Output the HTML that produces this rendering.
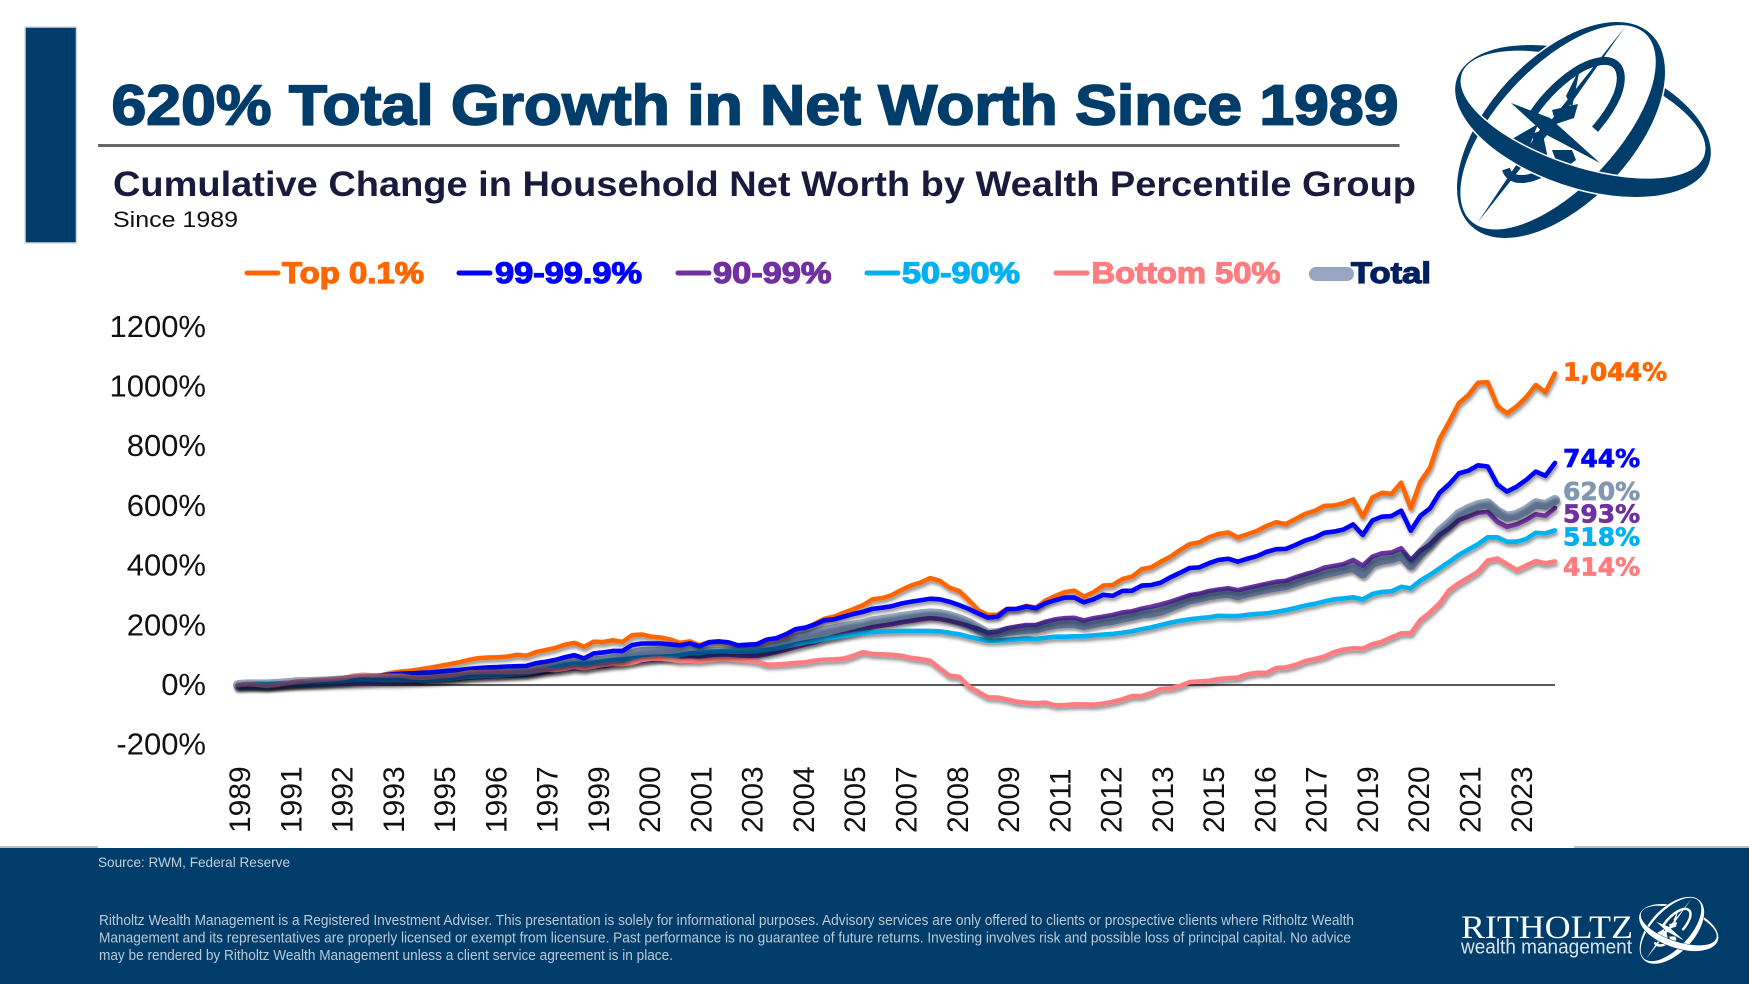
<!DOCTYPE html>
<html lang="en">
<head>
<meta charset="utf-8">
<title>620% Total Growth in Net Worth Since 1989</title>
<style>
html,body{margin:0;padding:0;background:#fff;}
svg{display:block;}
text{font-family:"Liberation Sans",Arial,sans-serif;}
</style>
</head>
<body>
<svg id="slide" xmlns="http://www.w3.org/2000/svg" width="1749" height="984" viewBox="0 0 1749 984">
  <defs>
    <filter id="shadow" filterUnits="userSpaceOnUse" x="200" y="300" width="1400" height="500">
      <feDropShadow dx="1" dy="3" stdDeviation="1.6" flood-color="#000" flood-opacity="0.42"/>
    </filter>
    <filter id="shadow-strong" filterUnits="userSpaceOnUse" x="200" y="300" width="1400" height="500">
      <feDropShadow dx="1" dy="3" stdDeviation="1.4" flood-color="#000" flood-opacity="1"/>
    </filter>
    <clipPath id="front-clip"><polygon points="1430,87 1730,183 1730,260 1430,260"/></clipPath>
    <path id="ring-b" fill-rule="evenodd" d="M-133 0a133 66.5 0 1 0 266 0a133 66.5 0 1 0 -266 0Z M-130 -6a128 52 0 1 0 256 0a128 52 0 1 0 -256 0Z"/>
    <path id="ring-a" fill-rule="evenodd" d="M-131.5 0a131.5 72 0 1 0 263 0a131.5 72 0 1 0 -263 0Z M-128 -4a128 60 0 1 0 256 0a128 60 0 1 0 -256 0Z"/>
    <g id="logo-mark" fill="currentColor">
      <use href="#ring-b" transform="translate(1583 121) rotate(18.6)"/>
      <ellipse cx="1561" cy="130" rx="131.5" ry="72" transform="rotate(-47 1561 130)" fill="var(--halo)"/>
      <g transform="translate(1558 122) rotate(-47)">
        <path d="M-10 -24 A70 30 0 0 1 55 -20 A70 30 0 0 1 60 25 A70 30 0 0 1 20 32" fill="none" stroke="currentColor" stroke-width="8"/>
        <path d="M-70 -6 A70 30 0 0 0 -40 26" fill="none" stroke="currentColor" stroke-width="8"/>
      </g>
      <polygon points="1625,27 1553,118 1541,128 1478,222 1547,135 1558,122"/>
      <polygon points="1511,103 1550,118 1600,163 1545,134"/>
      <polygon points="1505,143 1538,124 1528,150 1518,162"/>
      <polygon points="1532,134 1542,130 1550,168 1540,176"/>
      <polygon points="1552,110 1578,104 1574,118 1556,124"/>
      <polygon points="1552,150 1572,150 1576,160 1560,172"/>
      <polygon points="1566,96 1580,68 1572,108"/>
      <g transform="translate(1561 130) rotate(-47)">
        <use href="#ring-a" stroke="var(--halo)" stroke-width="3" paint-order="stroke"/>
      </g>
      <g clip-path="url(#front-clip)">
        <g transform="translate(1583 121) rotate(18.6)">
          <use href="#ring-b" stroke="var(--halo)" stroke-width="3" paint-order="stroke"/>
        </g>
      </g>
    </g>
  </defs>

  <rect x="0" y="0" width="1749" height="984" fill="#fff"/>
  <rect x="25" y="27" width="51.5" height="216" fill="#003D6B" stroke="#d9d9d9" stroke-width="1.5"/>

  <text x="111.500" y="124.500" font-size="57" font-weight="700" fill="#003D6B" stroke="#003D6B" stroke-width="1.7" textLength="1287" lengthAdjust="spacingAndGlyphs">620% Total Growth in Net Worth Since 1989</text>
  <rect x="98" y="144" width="1301.500" height="3" fill="#666"/>
  <text x="113" y="196" font-size="35" font-weight="700" fill="#1A1A3C" textLength="1303" lengthAdjust="spacingAndGlyphs">Cumulative Change in Household Net Worth by Wealth Percentile Group</text>
  <text x="113" y="227" font-size="22.5" fill="#111" textLength="125" lengthAdjust="spacingAndGlyphs">Since 1989</text>

  <g style="--halo:#fff;color:#003D6B"><use href="#logo-mark"/></g>

  <g id="legend" font-size="29.500" font-weight="700" stroke-width="1.2">
    <g>
      <line x1="247" y1="273" x2="278" y2="273" stroke="#FF6600" stroke-width="5" stroke-linecap="round"/>
      <text x="282" y="283" fill="#FF6600" stroke="#FF6600" textLength="142" lengthAdjust="spacingAndGlyphs">Top 0.1%</text>
    </g>
    <g>
      <line x1="459" y1="273" x2="490" y2="273" stroke="#0000FF" stroke-width="5" stroke-linecap="round"/>
      <text x="495" y="283" fill="#0000FF" stroke="#0000FF" textLength="147" lengthAdjust="spacingAndGlyphs">99-99.9%</text>
    </g>
    <g>
      <line x1="678" y1="273" x2="709" y2="273" stroke="#7030A0" stroke-width="5" stroke-linecap="round"/>
      <text x="713" y="283" fill="#7030A0" stroke="#7030A0" textLength="118.500" lengthAdjust="spacingAndGlyphs">90-99%</text>
    </g>
    <g>
      <line x1="867" y1="273" x2="898" y2="273" stroke="#00B0F0" stroke-width="5" stroke-linecap="round"/>
      <text x="902" y="283" fill="#00B0F0" stroke="#00B0F0" textLength="118" lengthAdjust="spacingAndGlyphs">50-90%</text>
    </g>
    <g>
      <line x1="1056" y1="273" x2="1087" y2="273" stroke="#FF7C80" stroke-width="5" stroke-linecap="round"/>
      <text x="1091.500" y="283" fill="#FF7C80" stroke="#FF7C80" textLength="189" lengthAdjust="spacingAndGlyphs">Bottom 50%</text>
    </g>
    <g>
      <rect x="1309" y="267" width="45" height="14" rx="7" fill="#98A6C1"/>
      <text x="1351" y="283" fill="#002060" stroke="#002060" textLength="80" lengthAdjust="spacingAndGlyphs">Total</text>
    </g>
  </g>

  <g id="y-axis"></g>
  <g id="x-axis"></g>
  <g id="plot"></g>
  <g id="end-labels"></g>

  <rect x="0" y="846" width="98" height="2" fill="#b9bec4"/>
  <rect x="1574" y="846" width="175" height="2" fill="#b9bec4"/>
  <rect x="0" y="848" width="1749" height="136" fill="#003D6B"/>
  <text x="98" y="867" font-size="14" fill="#C3CFDA" textLength="192" lengthAdjust="spacingAndGlyphs">Source: RWM, Federal Reserve</text>
  <g font-size="14.5" fill="#BCC9D5">
    <text x="99" y="925" textLength="1255" lengthAdjust="spacingAndGlyphs">Ritholtz Wealth Management is a Registered Investment Adviser. This presentation is solely for informational purposes. Advisory services are only offered to clients or prospective clients where Ritholtz Wealth</text>
    <text x="99" y="942.500" textLength="1252" lengthAdjust="spacingAndGlyphs">Management and its representatives are properly licensed or exempt from licensure. Past performance is no guarantee of future returns. Investing involves risk and possible loss of principal capital. No advice</text>
    <text x="99" y="960" textLength="574" lengthAdjust="spacingAndGlyphs">may be rendered by Ritholtz Wealth Management unless a client service agreement is in place.</text>
  </g>
  <g>
    <text x="1461" y="938" font-size="33" fill="#fff" style="font-family:'Liberation Serif',serif" textLength="172" lengthAdjust="spacingAndGlyphs">RITHOLTZ</text>
    <text x="1461" y="953.500" font-size="20" fill="#DDE4EB" textLength="171" lengthAdjust="spacingAndGlyphs">wealth management</text>
    <g transform="translate(1188 890) scale(0.31)" style="--halo:#003D6B;color:#fff"><use href="#logo-mark"/></g>
  </g>
</svg>

<script>
const xTickLabels = ["1989","1991","1992","1993","1995","1996","1997","1999","2000","2001","2003","2004","2005","2007","2008","2009","2011","2012","2013","2015","2016","2017","2019","2020","2021","2023"];
const yTickValues = [1200,1000,800,600,400,200,0,-200];

const top01 = [
0,2,2,1,3,6,8,10,12,14,
17,19,21,25,29,33,41,45,48,53,
58,64,70,76,84,90,92,93,95,101,
98,110,117,124,135,141,128,145,144,150,
144,167,169,162,159,152,141,146,133,144,
146,141,130,132,134,148,155,163,185,190,
205,222,229,242,254,267,287,291,301,318,
333,343,358,349,326,315,285,251,235,235,
255,255,265,259,283,298,311,316,296,311,
333,335,355,363,388,394,413,430,452,472,
478,495,506,511,494,505,516,533,545,539,
556,573,583,600,601,609,622,564,628,644,
640,678,592,681,728,824,882,944,972,1013,
1014,935,910,933,964,1005,981,1044];

const p99to999 = [
0,1,1,0,2,4,6,8,10,12,
14,17,20,24,28,32,36,38,39,41,
42,45,48,50,54,57,59,60,62,63,
64,73,78,84,93,100,89,106,109,114,
114,134,139,139,139,136,133,139,130,143,
146,143,133,135,137,152,157,170,187,192,
203,217,220,229,238,245,255,259,264,273,
279,284,289,287,279,268,255,240,226,229,
254,255,263,257,274,284,293,293,277,287,
302,299,315,316,333,335,343,361,376,392,
394,408,419,423,413,423,432,446,455,456,
469,484,494,510,514,521,538,503,551,564,
566,584,517,567,592,644,673,709,718,736,
732,672,648,664,687,715,701,744];

const p90to99 = [
0,-2,-2,-3,-1,0,1,2,3,4,
5,5,6,6,7,8,8,9,10,12,
14,16,19,21,24,26,28,30,31,32,
34,38,43,48,52,56,55,60,63,68,
72,78,81,85,89,90,90,92,92,96,
97,97,96,97,98,103,110,118,127,135,
143,154,162,170,178,186,194,199,204,210,
215,220,224,221,215,207,198,188,175,179,
190,196,201,201,212,220,224,225,216,224,
229,235,243,247,256,262,270,279,290,301,
306,315,320,324,318,325,332,339,346,349,
361,371,380,393,399,405,419,400,430,441,
444,458,419,450,471,503,525,553,564,577,
580,547,530,538,553,572,567,593];

const p50to90 = [
0,3,4,3,5,7,8,9,10,11,
12,14,18,20,19,17,16,17,17,16,
16,18,21,25,28,30,31,32,34,37,
39,45,52,60,68,72,71,75,80,84,
86,89,92,94,95,96,100,106,108,112,
113,114,114,114,114,118,122,129,136,143,
148,155,160,165,170,175,177,179,180,181,
181,181,181,180,175,170,162,155,148,149,
151,153,156,154,158,162,162,163,163,166,
169,171,175,180,187,193,201,209,215,220,
224,227,232,231,231,235,238,240,245,251,
258,266,272,280,287,290,294,287,305,312,
314,329,324,350,369,391,413,436,454,472,
495,495,480,480,489,510,508,518];

const bottom50 = [
0,3,1,-3,1,6,11,13,16,18,
20,23,31,34,32,31,31,31,26,24,
26,29,31,36,42,43,43,43,43,44,
44,48,52,50,54,61,56,62,68,71,
70,75,84,88,89,85,81,82,80,84,
87,87,84,82,78,68,69,71,74,76,
82,85,86,88,98,110,104,103,101,98,
91,87,81,56,31,28,-4,-23,-41,-42,
-48,-56,-59,-61,-59,-68,-67,-65,-65,-66,
-62,-56,-48,-37,-37,-27,-13,-11,-3,10,
12,14,20,23,25,36,41,41,57,59,
67,80,87,95,110,119,123,122,137,145,
160,173,173,218,243,274,318,341,360,380,
417,424,405,385,400,415,408,414];

const totalAll = [
0,2,2,2,4,6,9,10,11,12,
14,16,18,20,22,24,25,26,26,27,
29,31,33,36,39,41,43,44,45,47,
48,54,60,66,72,76,74,80,82,87,
90,104,110,112,114,113,111,112,108,110,
111,112,112,113,114,122,131,142,157,163,
171,181,187,194,199,204,213,218,222,228,
232,237,240,238,231,221,208,190,172,174,
181,185,188,190,198,205,208,208,201,208,
214,218,226,232,240,243,250,262,275,287,
293,301,306,309,301,310,317,324,330,335,
345,357,365,374,381,389,396,374,410,420,
425,436,402,441,475,514,542,573,590,603,
609,581,564,570,586,609,603,620];

const endLabels = ["1,044%","744%","620%","593%","518%","414%"];

const SVGNS = "http://www.w3.org/2000/svg";
const plotLeft = 238, plotRight = 1555, zeroY = 685, pxPerUnit = 0.2985;
const quartersPerTick = 16 / 3;
const pointCount = top01.length;

function xScale(i) { return plotLeft + i * (plotRight - plotLeft) / (pointCount - 1); }
function yScale(v) { return zeroY - v * pxPerUnit; }
function pathFrom(values) {
  return values.map(function (v, i) {
    return (i ? "L" : "M") + xScale(i).toFixed(2) + " " + yScale(v).toFixed(2);
  }).join("");
}
function make(tag, attrs, parent) {
  const el = document.createElementNS(SVGNS, tag);
  Object.keys(attrs).forEach(function (k) { el.setAttribute(k, attrs[k]); });
  parent.appendChild(el);
  return el;
}

const yAxis = document.getElementById("y-axis");
yTickValues.forEach(function (v) {
  const t = make("text", { x: 206, y: yScale(v) + 10, "text-anchor": "end", "font-size": 31, fill: "#111" }, yAxis);
  
  
  t.textContent = v + "%";
});

const xAxis = document.getElementById("x-axis");
xTickLabels.forEach(function (label, k) {
  const px = xScale(k * quartersPerTick) + 12;
  const t = make("text", { transform: "translate(" + px + " 833) rotate(-90)", "font-size": 30, fill: "#111" }, xAxis);
  
  
  t.textContent = label;
});

const plot = document.getElementById("plot");
const zeroLine = make("line", { x1: plotLeft, x2: plotRight, y1: yScale(0), y2: yScale(0), stroke: "#222", "stroke-width": 1.4 }, plot);



function drawLine(values, name, color, width, opacity, filterId) {
  const p = make("path", { d: pathFrom(values), fill: "none", stroke: color, "stroke-width": width, "stroke-opacity": opacity, "stroke-linejoin": "round", "stroke-linecap": "round", filter: "url(#" + filterId + ")" }, plot);
  
  
}
drawLine(top01, "line-top-0-1", "#FF6600", 4.6, 1, "shadow");
drawLine(p99to999, "line-99-99-9", "#0000FF", 4.6, 1, "shadow");
drawLine(p90to99, "line-90-99", "#7030A0", 4.6, 1, "shadow");
drawLine(p50to90, "line-50-90", "#00B0F0", 4.6, 1, "shadow");
drawLine(bottom50, "line-bottom-50", "#FF7C80", 4.6, 1, "shadow");
drawLine(totalAll, "line-total", "#002060", 10, 0.4, "shadow-strong");

const endGroup = document.getElementById("end-labels");
function drawEnd(values, text, color, nudge) {
  const t = make("text", { x: 1563, y: yScale(values[values.length - 1]) + nudge, "font-size": 25, "font-weight": 700, fill: color, stroke: color, "stroke-width": 0.7 }, endGroup);
  
  
  t.style.fontFamily = '"DejaVu Sans",sans-serif';
  t.textContent = text;
}
drawEnd(top01, endLabels[0], "#FF6600", 7);
drawEnd(p99to999, endLabels[1], "#0000FF", 4);
drawEnd(totalAll, endLabels[2], "#8497B0", 0);
drawEnd(p90to99, endLabels[3], "#7030A0", 14.5);
drawEnd(p50to90, endLabels[4], "#00B0F0", 15);
drawEnd(bottom50, endLabels[5], "#FF7C80", 14);
</script>
</body>
</html>
